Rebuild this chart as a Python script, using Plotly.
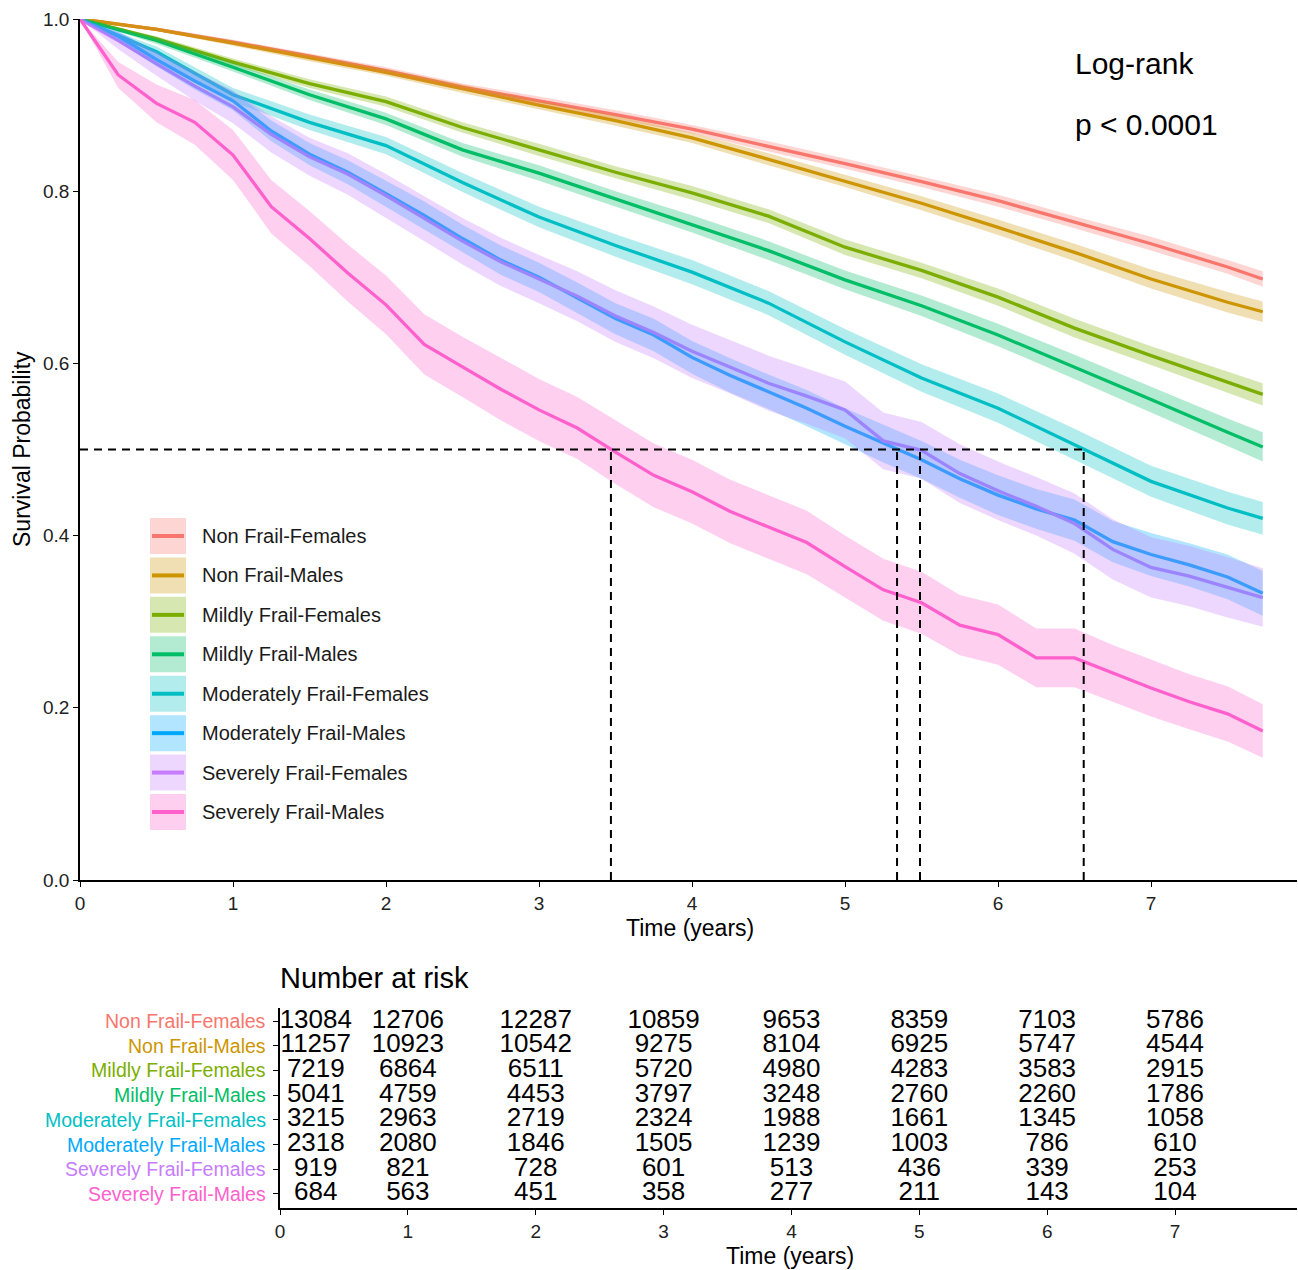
import plotly.graph_objects as go

# ---------------- data ----------------
GROUPS = ["Non Frail-Females", "Non Frail-Males", "Mildly Frail-Females", "Mildly Frail-Males",
          "Moderately Frail-Females", "Moderately Frail-Males", "Severely Frail-Females",
          "Severely Frail-Males"]
COLORS = ["#F8766D", "#CD9600", "#7CAE00", "#00BE67", "#00BFC4", "#00A9FF", "#C77CFF", "#FF61CC"]

T_HALF = [0, 0.5, 1, 1.5, 2, 2.5, 3, 3.5, 4, 4.5, 5, 5.5, 6, 6.5, 7, 7.5, 7.73]
T_QUARTER = [0, 0.25, 0.5, 0.75, 1, 1.25, 1.5, 1.75, 2, 2.25, 2.5, 2.75, 3, 3.25, 3.5, 3.75,
             4, 4.25, 4.5, 4.75, 5, 5.25, 5.5, 5.75, 6, 6.25, 6.5, 6.75, 7, 7.25, 7.5, 7.73]

S_NF_F = [1.0, 0.988, 0.973, 0.957, 0.940, 0.921, 0.905, 0.889, 0.872, 0.852, 0.832, 0.811, 0.789, 0.764, 0.739, 0.712, 0.698]
CI_NF_F = [0, 0.002, 0.003, 0.003, 0.004, 0.004, 0.005, 0.005, 0.005, 0.006, 0.006, 0.006, 0.007, 0.007, 0.008, 0.008, 0.009]
S_NF_M = [1.0, 0.988, 0.972, 0.955, 0.938, 0.919, 0.900, 0.882, 0.862, 0.837, 0.812, 0.786, 0.758, 0.729, 0.698, 0.671, 0.660]
CI_NF_M = [0, 0.002, 0.003, 0.004, 0.004, 0.005, 0.005, 0.006, 0.006, 0.007, 0.007, 0.008, 0.009, 0.010, 0.011, 0.012, 0.012]
S_MI_F = [1.0, 0.977, 0.950, 0.925, 0.904, 0.874, 0.848, 0.822, 0.798, 0.771, 0.735, 0.708, 0.677, 0.641, 0.609, 0.578, 0.564]
CI_MI_F = [0, 0.003, 0.004, 0.005, 0.006, 0.006, 0.007, 0.007, 0.008, 0.008, 0.009, 0.009, 0.010, 0.011, 0.011, 0.012, 0.013]
S_MI_M = [1.0, 0.975, 0.944, 0.912, 0.884, 0.848, 0.821, 0.791, 0.762, 0.731, 0.697, 0.667, 0.633, 0.596, 0.558, 0.520, 0.503]
CI_MI_M = [0, 0.004, 0.005, 0.006, 0.007, 0.008, 0.009, 0.009, 0.010, 0.011, 0.011, 0.012, 0.013, 0.014, 0.015, 0.016, 0.017]
S_MO_F = [1.0, 0.962, 0.912, 0.880, 0.853, 0.810, 0.770, 0.737, 0.706, 0.670, 0.625, 0.583, 0.548, 0.506, 0.463, 0.432, 0.420]
CI_MO_F = [0, 0.006, 0.008, 0.009, 0.010, 0.011, 0.012, 0.013, 0.014, 0.014, 0.015, 0.016, 0.017, 0.018, 0.018, 0.019, 0.019]

S_MO_M = [1.0, 0.980, 0.953, 0.928, 0.905, 0.870, 0.843, 0.822, 0.797, 0.772, 0.745, 0.720, 0.700, 0.676,
          0.652, 0.633, 0.607, 0.586, 0.567, 0.548, 0.527, 0.507, 0.488, 0.466, 0.447, 0.431, 0.418,
          0.393, 0.378, 0.366, 0.352, 0.333]
CI_MO_M = [0, 0.006, 0.008, 0.010, 0.011, 0.012, 0.013, 0.014, 0.015, 0.016, 0.016, 0.017, 0.017, 0.018,
           0.018, 0.019, 0.019, 0.020, 0.020, 0.021, 0.021, 0.022, 0.022, 0.022, 0.023, 0.023, 0.024,
           0.024, 0.025, 0.025, 0.026, 0.026]
S_SE_F = [1.0, 0.975, 0.948, 0.922, 0.898, 0.866, 0.840, 0.820, 0.795, 0.768, 0.742, 0.718, 0.698, 0.678,
          0.655, 0.636, 0.614, 0.596, 0.577, 0.562, 0.546, 0.510, 0.499, 0.472, 0.452, 0.434, 0.414,
          0.384, 0.363, 0.353, 0.340, 0.328]
CI_SE_F = [0, 0.010, 0.014, 0.017, 0.019, 0.021, 0.022, 0.024, 0.025, 0.026, 0.027, 0.028, 0.028, 0.029,
           0.030, 0.030, 0.031, 0.031, 0.032, 0.032, 0.033, 0.033, 0.033, 0.034, 0.034, 0.034, 0.035,
           0.035, 0.035, 0.035, 0.035, 0.034]
S_SE_M = [1.0, 0.935, 0.902, 0.880, 0.842, 0.782, 0.745, 0.705, 0.668, 0.622, 0.596, 0.570, 0.546, 0.525,
          0.497, 0.470, 0.451, 0.428, 0.410, 0.392, 0.364, 0.337, 0.322, 0.296, 0.285, 0.258, 0.258,
          0.240, 0.223, 0.207, 0.193, 0.173]
CI_SE_M = [0, 0.015, 0.022, 0.026, 0.029, 0.031, 0.032, 0.033, 0.034, 0.035, 0.035, 0.036, 0.036, 0.036,
           0.037, 0.037, 0.037, 0.037, 0.037, 0.037, 0.036, 0.036, 0.036, 0.035, 0.035, 0.034, 0.034,
           0.033, 0.033, 0.032, 0.032, 0.031]

TIMES = [T_HALF, T_HALF, T_HALF, T_HALF, T_HALF, T_QUARTER, T_QUARTER, T_QUARTER]
SURV = [S_NF_F, S_NF_M, S_MI_F, S_MI_M, S_MO_F, S_MO_M, S_SE_F, S_SE_M]
CIS = [CI_NF_F, CI_NF_M, CI_MI_F, CI_MI_M, CI_MO_F, CI_MO_M, CI_SE_F, CI_SE_M]

MEDIANS = [3.47, 5.34, 5.49, 6.56]

RISK_TIMES = [0, 1, 2, 3, 4, 5, 6, 7]
RISK_NF_F = [13084, 12706, 12287, 10859, 9653, 8359, 7103, 5786]
RISK_NF_M = [11257, 10923, 10542, 9275, 8104, 6925, 5747, 4544]
RISK_MI_F = [7219, 6864, 6511, 5720, 4980, 4283, 3583, 2915]
RISK_MI_M = [5041, 4759, 4453, 3797, 3248, 2760, 2260, 1786]
RISK_MO_F = [3215, 2963, 2719, 2324, 1988, 1661, 1345, 1058]
RISK_MO_M = [2318, 2080, 1846, 1505, 1239, 1003, 786, 610]
RISK_SE_F = [919, 821, 728, 601, 513, 436, 339, 253]
RISK_SE_M = [684, 563, 451, 358, 277, 211, 143, 104]
RISK = [RISK_NF_F, RISK_NF_M, RISK_MI_F, RISK_MI_M, RISK_MO_F, RISK_MO_M, RISK_SE_F, RISK_SE_M]

# ---------------- layout helpers ----------------
W, H = 1298, 1270
ML, MR, MT, MB = 80, 1, 19, 62
PW, PH = W - ML - MR, H - MT - MB
XMAX = 7.954
FONT = "Liberation Sans, Arial, sans-serif"


def px2x(px):
    return (px - ML) / PW


def px2y(py):
    return (H - MB - py) / PH


def rgba(hexc, a):
    h = hexc.lstrip("#")
    return "rgba(%d,%d,%d,%.2f)" % (int(h[0:2], 16), int(h[2:4], 16), int(h[4:6], 16), a)


fig = go.Figure()

# survival lines (drawn first, ribbons are laid over them as in survminer)
for name, col, t, s in zip(GROUPS, COLORS, TIMES, SURV):
    fig.add_trace(go.Scatter(x=t, y=s, mode="lines", line=dict(color=col, width=3.3),
                             name=name, showlegend=False, xaxis="x", yaxis="y"))

# confidence ribbons
for name, col, t, s, ci in zip(GROUPS, COLORS, TIMES, SURV, CIS):
    up = [min(1.0, a + b) for a, b in zip(s, ci)]
    lo = [a - b for a, b in zip(s, ci)]
    fig.add_trace(go.Scatter(x=list(t) + list(t)[::-1], y=up + lo[::-1], mode="lines",
                             fill="toself", fillcolor=rgba(col, 0.3), line=dict(width=0),
                             hoverinfo="skip", showlegend=False, xaxis="x", yaxis="y"))

# median lines
DASH = dict(color="black", width=2, dash="8px,6px")
fig.add_trace(go.Scatter(x=[0, max(MEDIANS)], y=[0.5, 0.5], mode="lines", line=DASH,
                         showlegend=False, xaxis="x", yaxis="y"))
for m in MEDIANS:
    fig.add_trace(go.Scatter(x=[m, m], y=[0, 0.5], mode="lines", line=DASH,
                             showlegend=False, xaxis="x", yaxis="y"))

# risk table numbers
ROWS = list(range(len(GROUPS), 0, -1))
for row, counts in zip(ROWS, RISK):
    xs = [t if t > 0 else 0.28 for t in RISK_TIMES]
    fig.add_trace(go.Scatter(x=xs, y=[row] * len(counts), mode="text",
                             text=[str(c) for c in counts], textposition="middle center",
                             textfont=dict(family=FONT, size=26, color="black"),
                             showlegend=False, xaxis="x2", yaxis="y2", hoverinfo="skip"))

axis_common = dict(showgrid=False, zeroline=False, showline=True, linecolor="black", linewidth=1.6,
                   ticks="outside", ticklen=5, tickwidth=1.4, tickcolor="black",
                   tickfont=dict(family=FONT, size=19, color="#222222"), automargin=False)

main_bottom = px2y(880)
risk_top = px2y(1008)

fig.update_layout(
    width=W, height=H, margin=dict(l=ML, r=MR, t=MT, b=MB),
    paper_bgcolor="white", plot_bgcolor="rgba(0,0,0,0)",
    font=dict(family=FONT, color="black"),
    showlegend=False,
    xaxis=dict(domain=[0, 1], range=[0, XMAX], tickvals=RISK_TIMES, anchor="y", **axis_common),
    yaxis=dict(domain=[main_bottom, 1], range=[0, 1], tickvals=[0, 0.2, 0.4, 0.6, 0.8, 1.0],
               ticktext=["0.0", "0.2", "0.4", "0.6", "0.8", "1.0"], anchor="x", **axis_common),
    xaxis2=dict(domain=[px2x(280), 1], range=[0, XMAX], tickvals=RISK_TIMES, anchor="y2", **axis_common),
    yaxis2=dict(domain=[0, risk_top], range=[0.433, 8.526], tickvals=ROWS, ticktext=[""] * len(ROWS),
                anchor="x2", **axis_common),
)


def note(text, px, py, size, xanchor="center", color="black", angle=0, yref="paper", yval=None):
    return dict(text=text, x=px2x(px), y=(px2y(py) if yval is None else yval), xref="paper",
                yref=yref, xanchor=xanchor, yanchor="middle", textangle=angle, showarrow=False,
                font=dict(size=size, family=FONT, color=color))


ann = []
ann.append(note("Survival Probability", 22, 449, 23, angle=-90))
ann.append(note("Time (years)", 690, 928, 23))
ann.append(note("Time (years)", 790, 1256, 23))
ann.append(note("Number at risk", 278, 978, 29, xanchor="left"))
ann.append(note("Log-rank", 1073, 63, 30, xanchor="left"))
ann.append(note("p < 0.0001", 1073, 124, 30, xanchor="left"))

# risk-table row labels (coloured)
for row, name, col in zip(ROWS, GROUPS, COLORS):
    ann.append(note(name, 268, 0, 19.5, xanchor="right", color=col, yref="y2", yval=row))

# manual legend (boxed keys as in ggplot)
shapes = []
for i, (name, col) in enumerate(zip(GROUPS, COLORS)):
    cy = 536 + i * 39.43
    shapes.append(dict(type="line", xref="paper", yref="paper", x0=px2x(152), x1=px2x(184),
                       y0=px2y(cy), y1=px2y(cy), line=dict(color=col, width=4)))
    shapes.append(dict(type="rect", xref="paper", yref="paper", x0=px2x(150), x1=px2x(186),
                       y0=px2y(cy + 18), y1=px2y(cy - 18), fillcolor=rgba(col, 0.3),
                       line=dict(width=0)))
    ann.append(note(name, 200, cy, 20, xanchor="left", color="#1a1a1a"))

fig.update_layout(annotations=ann, shapes=shapes)
fig.write_html("out.html")
